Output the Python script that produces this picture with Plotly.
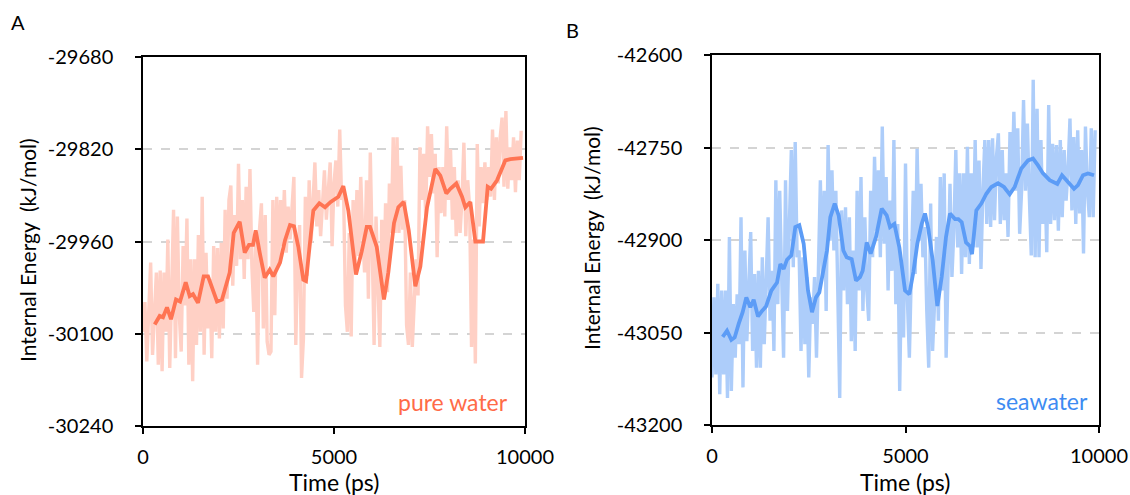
import plotly.graph_objects as go

# ---------------- data ----------------
raw_step_ps = 50
pure_raw = [-30097,-30052,-30142,-30047,-29992,-30132,-30067,-30007,-30147,-30004,
            -30157,-30007,-30097,-29957,-30152,-30027,-29912,-30137,-29922,-30072,
            -30127,-29967,-30057,-29925,-30147,-29987,-30172,-29987,-30117,-29950,
            -30097,-29892,-30132,-29977,-30092,-30017,-30137,-29967,-30097,-29970,
            -30107,-29962,-30092,-29912,-30047,-29897,-29875,-30027,-29920,-29997,
            -29842,-29987,-29897,-30017,-29877,-29987,-29850,-29997,-30067,-29957,
            -30147,-29942,-29902,-30092,-29920,-30112,-30132,
            -30127,-29897,-30072,-29892,-29997,-29897,-29967,-29882,-29977,-29907,
            -29957,-29897,-29862,-30117,-29982,-29935,-30167,-30107,-29892,-30012,
            -29867,-29962,-29897,-29840,-29937,-29882,-29952,-29897,-29852,-29927,
            -29877,-29840,-29967,-29872,-29837,-29907,-29790,-29897,-29882,-30057,
            -30097,-29947,-30104,-29897,-29997,-29882,-29982,-29862,-29947,-30007,
            -29867,-30047,-29825,-29997,-30117,-29922,-30047,-30120,-29927,-30047,
            -29902,-30037,-29872,-29947,-29802,-29947,
            -29802,-29947,-29845,-29942,-29897,-30087,-30117,-30007,-30120,-30047,
            -29987,-30042,-29817,-29897,-29827,-29922,-29785,-29862,-29797,-29887,
            -29827,-29984,-29847,-29917,-29847,-29922,-29785,-29897,-29820,-29927,
            -29847,-29952,-29867,-29947,-29897,-29810,-29952,-29867,-29907,-30120,
            -29957,-30145,-29812,-29937,-29847,-29902,-29840,-29897,-29847,-29892,
            -29790,-29897,-29802,-29872,-29802,-29772,-29877,-29762,-29880,-29817,
            -29867,-29802,-29885,-29807,-29867,-29792]

pure_smooth_t = [306,437,524,628,733,864,969,1118,1223,1309,1440,1589,1702,1833,1937,
                 2068,2165,2270,2375,2532,2663,2775,2880,2950,3055,3186,3317,3411,3587,
                 3718,3848,3953,4066,4197,4267,4459,4616,4765,4914,5113,5244,5375,5576,
                 5726,5857,5943,6118,6309,6422,6571,6684,6825,6956,7129,7260,7435,7652,
                 7783,7940,8045,8202,8351,8438,8569,8700,8901,9024,9111,9268,9485,9616,
                 9836,9948]
pure_smooth = [-30086,-30073,-30075,-30060,-30078,-30048,-30051,-30022,-30043,-30040,
               -30053,-30013,-30013,-30033,-30051,-30048,-30028,-30007,-29947,-29930,
               -29977,-29965,-29965,-29943,-29977,-30015,-30003,-30013,-29992,-29958,
               -29935,-29937,-29968,-30018,-30020,-29913,-29902,-29908,-29900,-29892,
               -29876,-29913,-30010,-29975,-29938,-29938,-29968,-30048,-30007,-29932,
               -29908,-29900,-29943,-30028,-29998,-29908,-29850,-29860,-29887,-29880,
               -29872,-29892,-29908,-29900,-29960,-29960,-29877,-29880,-29867,-29837,
               -29835,-29833,-29833]

sea_raw = [-43123,-42993,-43118,-42971,-43150,-42982,-43118,-42982,-43156,-42895,
           -43145,-43004,-43091,-42988,-43069,-42863,-43139,-42917,-43064,-42982,
           -42887,-43080,-42955,-43107,-42950,-43107,-42928,-43069,-42960,-42863,
           -43031,-42950,-43080,-42803,-43004,-42820,-42960,-43091,-42803,-43015,
           -42874,-42754,-42944,-42741,-42928,-42917,-43080,-42928,-43069,-42960,
           -43123,-42993,-43036,-42960,-43091,-42960,-42803,-42960,-42820,-43015,
           -42746,-42901,-42787,-42917,-42820,-42982,-43156,
           -42852,-42982,-42847,-43004,-42863,-43064,-42917,-43080,-42820,-42982,
           -42798,-43015,-42863,-42982,-43031,-42820,-42928,-42765,-42885,-42787,
           -42928,-42716,-42906,-42798,-42982,-42836,-42950,-42738,-43004,-42874,
           -43145,-42939,-43058,-42776,-42998,-43091,-42955,-42820,-42955,-42752,
           -42901,-42809,-42928,-42879,-43015,-43107,-42841,-43080,-43004,-42895,
           -43031,-42798,-42982,-42792,-43091,-42960,-42809,-42960,-42885,-42754,
           -42912,-42792,-42955,-42792,-42928,-42749,
           -42939,-42792,-42912,-42738,-42912,-42771,-42947,-42820,-42738,-42874,
           -42738,-42879,-42735,-42868,-42765,-42727,-42874,-42754,-42868,-42792,
           -42895,-42725,-42820,-42692,-42820,-42719,-42890,-42820,-42673,-42820,
           -42711,-42830,-42925,-42640,-42928,-42687,-42928,-42738,-42874,-42792,
           -42920,-42681,-42874,-42744,-42868,-42746,-42885,-42738,-42863,-42754,
           -42836,-42787,-42703,-42852,-42733,-42874,-42722,-42857,-42754,-42922,
           -42716,-42820,-42863,-42719,-42863,-42722]

sea_smooth_t = [276,388,500,586,689,792,887,990,1077,1189,1292,1395,1533,1680,1766,
                1852,1938,2050,2153,2256,2369,2481,2584,2687,2773,2842,2971,3058,3170,
                3273,3359,3394,3480,3609,3721,3825,3894,3997,4100,4238,4385,4514,4600,
                4712,4841,4988,5100,5203,5306,5418,5504,5590,5702,5823,5935,6047,6150,
                6279,6366,6452,6564,6667,6718,6830,6959,7089,7218,7390,7545,7692,7821,
                7993,8165,8295,8424,8553,8725,8923,9044,9199,9354,9457,9587,9716,9871]
sea_smooth = [-43057,-43047,-43062,-43058,-43036,-43017,-42993,-43009,-42997,-43024,
              -43015,-43008,-42982,-42969,-42939,-42947,-42932,-42925,-42879,-42876,
              -42906,-42982,-43017,-42993,-42985,-42960,-42917,-42863,-42841,-42860,
              -42900,-42917,-42928,-42931,-42966,-42960,-42950,-42904,-42922,-42895,
              -42849,-42860,-42879,-42874,-42912,-42982,-42988,-42952,-42906,-42874,
              -42857,-42882,-42933,-43007,-42960,-42895,-42857,-42866,-42866,-42871,
              -42904,-42910,-42923,-42852,-42841,-42825,-42814,-42808,-42814,-42826,
              -42814,-42784,-42771,-42768,-42779,-42792,-42803,-42809,-42795,-42806,
              -42817,-42811,-42795,-42792,-42795]

x_ticks = [0, 5000, 10000]
x_tick_text = ["0", "5000", "10000"]
pure_y_ticks = [-30240, -30100, -29960, -29820, -29680]
pure_y_text = ["-30240", "-30100", "-29960", "-29820", "-29680"]
sea_y_ticks = [-43200, -43050, -42900, -42750, -42600]
sea_y_text = ["-43200", "-43050", "-42900", "-42750", "-42600"]

pure_raw_t = [raw_step_ps * i for i in range(len(pure_raw))]
sea_raw_t = [raw_step_ps * i for i in range(len(sea_raw))]

# ---------------- styles ----------------
FONT = "Lato, 'Open Sans', sans-serif"
C_PURE_RAW = "#FFD0C5"
C_PURE = "#FF7453"
C_SEA_RAW = "#ADCDFA"
C_SEA = "#5C9CF6"

fig = go.Figure()
fig.add_trace(go.Scatter(x=pure_raw_t, y=pure_raw, mode="lines",
                         line=dict(color=C_PURE_RAW, width=3.4), xaxis="x", yaxis="y",
                         showlegend=False, hoverinfo="skip"))
fig.add_trace(go.Scatter(x=pure_smooth_t, y=pure_smooth, mode="lines",
                         line=dict(color=C_PURE, width=3.8),
                         xaxis="x", yaxis="y", showlegend=False))
fig.add_trace(go.Scatter(x=sea_raw_t, y=sea_raw, mode="lines",
                         line=dict(color=C_SEA_RAW, width=3.4), xaxis="x2", yaxis="y2",
                         showlegend=False, hoverinfo="skip"))
fig.add_trace(go.Scatter(x=sea_smooth_t, y=sea_smooth, mode="lines",
                         line=dict(color=C_SEA, width=3.8),
                         xaxis="x2", yaxis="y2", showlegend=False))

W, H = 1130, 495

def px_x(p):
    return p / W

def px_y(p):
    return 1 - p / H

xcommon = dict(range=[0, 10000], tickvals=x_ticks, ticktext=x_tick_text,
               showgrid=False, zeroline=False, showline=True, linecolor="black",
               linewidth=1.5, mirror=True, ticks="outside", ticklen=6, tickwidth=1.5,
               tickcolor="black", tickfont=dict(family=FONT, size=20, color="black"),
               ticklabelstandoff=6, automargin=False)
ycommon = dict(showgrid=True, gridcolor="#D4D4D4", griddash="dash", gridwidth=1.5,
               zeroline=False, showline=True, linecolor="black", linewidth=1.5,
               mirror=True, ticks="outside", ticklen=6, tickwidth=1.5, tickcolor="black",
               tickfont=dict(family=FONT, size=20, color="black"), ticklabelstandoff=18,
               automargin=False)

fig.update_layout(
    width=W, height=H, autosize=False,
    margin=dict(l=0, r=0, t=0, b=0, pad=0, autoexpand=False),
    paper_bgcolor="white", plot_bgcolor="white",
    font=dict(family=FONT, size=20, color="black"),
    xaxis=dict(domain=[px_x(143), px_x(525)], anchor="y", **xcommon),
    yaxis=dict(domain=[px_y(426), px_y(57)], anchor="x", range=[-30240, -29680],
               tickvals=pure_y_ticks, ticktext=pure_y_text, **ycommon),
    xaxis2=dict(domain=[px_x(712), px_x(1099)], anchor="y2", **xcommon),
    yaxis2=dict(domain=[px_y(425), px_y(55)], anchor="x2", range=[-43200, -42600],
                tickvals=sea_y_ticks, ticktext=sea_y_text, **ycommon),
)

def ann(text, x, y, size=20, color="black", angle=0):
    fig.add_annotation(text=text, x=px_x(x), y=px_y(y), xref="paper", yref="paper",
                       showarrow=False, textangle=angle, xanchor="center", yanchor="middle",
                       font=dict(family=FONT, size=size, color=color))

ann("A", 18, 22)
ann("B", 572, 30)
ann("Internal Energy \u00a0(kJ/mol)", 27, 250, size=21, angle=-90)
ann("Internal Energy \u00a0(kJ/mol)", 591, 238, size=21, angle=-90)
ann("Time (ps)", 334, 482, size=23)
ann("Time (ps)", 905, 482, size=23)
ann("pure water", 453, 402, size=23, color="#FF6B47")
ann("seawater", 1042, 401, size=23, color="#3D8BF2")

fig.write_html("out.html")
